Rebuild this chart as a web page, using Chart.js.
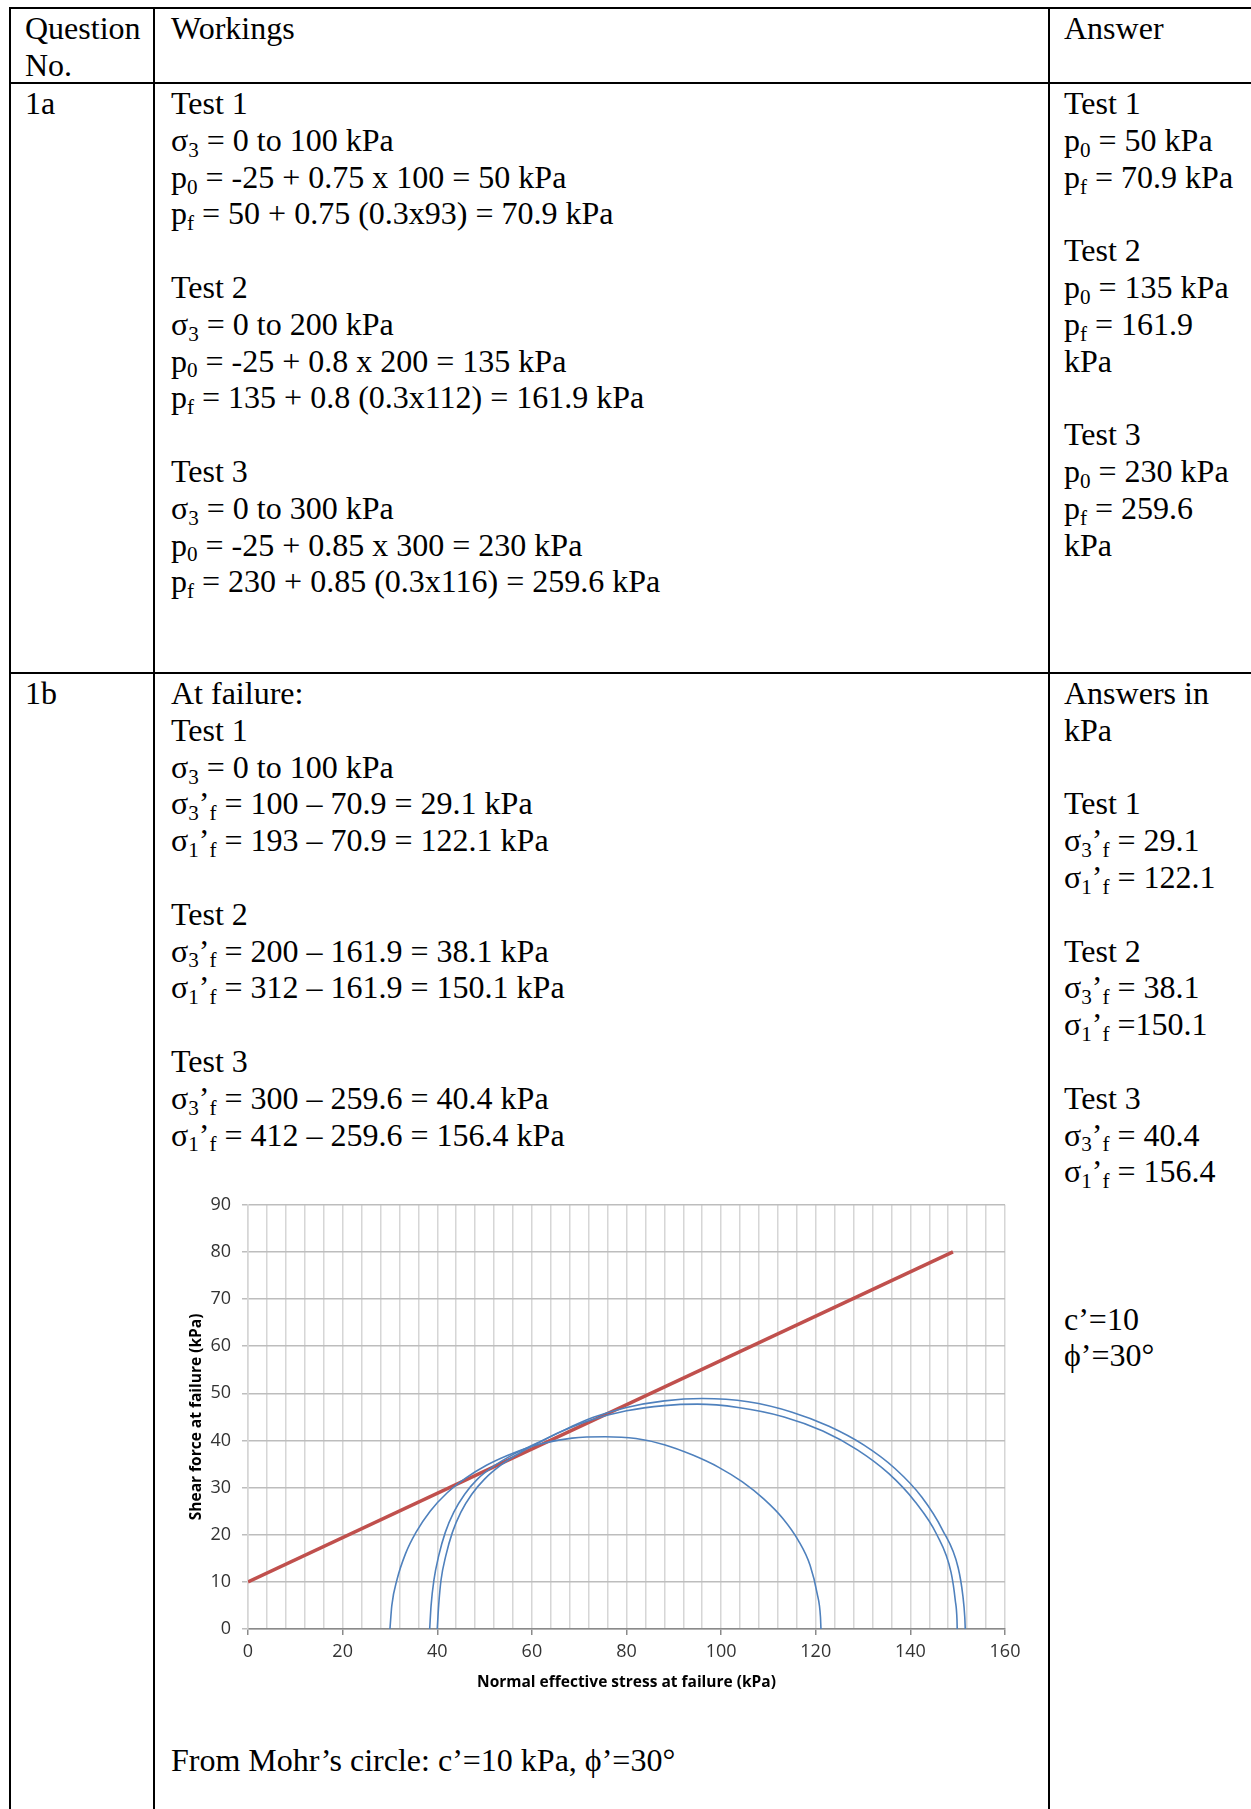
<!DOCTYPE html>
<html>
<head>
<meta charset="utf-8">
<script src="https://cdn.jsdelivr.net/npm/chart.js@4.4.1/dist/chart.umd.min.js"></script>
<style>
html, body { margin: 0; padding: 0; background: #fff; }
body { width: 1251px; height: 1809px; position: relative; overflow: hidden;
       font-family: "Liberation Serif", "Times New Roman", serif; font-size: 32px; color: #000; }
.rule { position: absolute; background: #000; }
.cell { position: absolute; white-space: nowrap; }
.cell div { height: 36.8px; line-height: 36.8px; }
sub { font-size: .66em; line-height: 0; vertical-align: baseline; position: relative; top: .28em; }
#chartBox { position: absolute; left: 160px; top: 1183px; width: 875px; height: 516px; }
</style>
</head>
<body>
<!-- table rules -->
<div class="rule" style="left:9px;top:7px;width:1242px;height:2px"></div>
<div class="rule" style="left:9px;top:82px;width:1242px;height:2px"></div>
<div class="rule" style="left:9px;top:672px;width:1242px;height:2px"></div>
<div class="rule" style="left:9px;top:7px;width:2px;height:1802px"></div>
<div class="rule" style="left:153px;top:7px;width:2px;height:1802px"></div>
<div class="rule" style="left:1048px;top:7px;width:2px;height:1802px"></div>

<!-- header -->
<div class="cell" style="left:25px;top:10px"><div>Question</div><div>No.</div></div>
<div class="cell" style="left:171px;top:10px"><div>Workings</div></div>
<div class="cell" style="left:1064px;top:10px"><div>Answer</div></div>

<!-- 1a -->
<div class="cell" style="left:25px;top:85px"><div>1a</div></div>
<div class="cell" style="left:171px;top:85px">
  <div>Test 1</div>
  <div>σ<sub>3</sub> = 0 to 100 kPa</div>
  <div>p<sub>0</sub> = -25 + 0.75 x 100 = 50 kPa</div>
  <div>p<sub>f</sub> = 50 + 0.75 (0.3x93) = 70.9 kPa</div>
  <div></div>
  <div>Test 2</div>
  <div>σ<sub>3</sub> = 0 to 200 kPa</div>
  <div>p<sub>0</sub> = -25 + 0.8 x 200 = 135 kPa</div>
  <div>p<sub>f</sub> = 135 + 0.8 (0.3x112) = 161.9 kPa</div>
  <div></div>
  <div>Test 3</div>
  <div>σ<sub>3</sub> = 0 to 300 kPa</div>
  <div>p<sub>0</sub> = -25 + 0.85 x 300 = 230 kPa</div>
  <div>p<sub>f</sub> = 230 + 0.85 (0.3x116) = 259.6 kPa</div>
</div>
<div class="cell" style="left:1064px;top:85px">
  <div>Test 1</div>
  <div>p<sub>0</sub> = 50 kPa</div>
  <div>p<sub>f</sub> = 70.9 kPa</div>
  <div></div>
  <div>Test 2</div>
  <div>p<sub>0</sub> = 135 kPa</div>
  <div>p<sub>f</sub> = 161.9</div>
  <div>kPa</div>
  <div></div>
  <div>Test 3</div>
  <div>p<sub>0</sub> = 230 kPa</div>
  <div>p<sub>f</sub> = 259.6</div>
  <div>kPa</div>
</div>

<!-- 1b -->
<div class="cell" style="left:25px;top:675px"><div>1b</div></div>
<div class="cell" style="left:171px;top:675px">
  <div>At failure:</div>
  <div>Test 1</div>
  <div>σ<sub>3</sub> = 0 to 100 kPa</div>
  <div>σ<sub>3</sub>’<sub>f</sub> = 100 – 70.9 = 29.1 kPa</div>
  <div>σ<sub>1</sub>’<sub>f</sub> = 193 – 70.9 = 122.1 kPa</div>
  <div></div>
  <div>Test 2</div>
  <div>σ<sub>3</sub>’<sub>f</sub> = 200 – 161.9 = 38.1 kPa</div>
  <div>σ<sub>1</sub>’<sub>f</sub> = 312 – 161.9 = 150.1 kPa</div>
  <div></div>
  <div>Test 3</div>
  <div>σ<sub>3</sub>’<sub>f</sub> = 300 – 259.6 = 40.4 kPa</div>
  <div>σ<sub>1</sub>’<sub>f</sub> = 412 – 259.6 = 156.4 kPa</div>
</div>
<div class="cell" style="left:171px;top:1742px"><div>From Mohr’s circle: c’=10 kPa, ϕ’=30°</div></div>
<div class="cell" style="left:1064px;top:675px">
  <div>Answers in</div>
  <div>kPa</div>
  <div></div>
  <div>Test 1</div>
  <div>σ<sub>3</sub>’<sub>f</sub> = 29.1</div>
  <div>σ<sub>1</sub>’<sub>f</sub> = 122.1</div>
  <div></div>
  <div>Test 2</div>
  <div>σ<sub>3</sub>’<sub>f</sub> = 38.1</div>
  <div>σ<sub>1</sub>’<sub>f</sub> =150.1</div>
  <div></div>
  <div>Test 3</div>
  <div>σ<sub>3</sub>’<sub>f</sub> = 40.4</div>
  <div>σ<sub>1</sub>’<sub>f</sub> = 156.4</div>
  <div></div>
  <div></div>
  <div></div>
  <div>c’=10</div>
  <div>ϕ’=30°</div>
</div>

<div id="chartBox"><canvas id="mohrChart"></canvas></div>

<script>
// Failure envelope
const envelopeSigma = [0, 149];
const envelopeTau = [10, 80];

// Mohr circles, points traced along each arc (left foot -> right foot)
const test1Sigma = [30, 30.4, 31.5, 33.3, 35.5, 38.5, 42, 46, 50.5, 56, 62, 68.5, 75.5, 82, 88, 94, 99.5, 104.5, 109, 113, 116.3, 118.8, 120.3, 121, 121.1];
const test1Tau   = [0, 5, 10.5, 16, 20.5, 25, 28.8, 32, 34.8, 37.3, 39.3, 40.5, 40.8, 40.4, 39.1, 36.9, 34.3, 31.2, 27.6, 23.5, 18.8, 13.5, 7.5, 2.5, 0];

const test2Sigma = [38.4, 38.7, 39.3, 40.3, 41.7, 43.5, 45.8, 48.5, 52, 56, 61, 66, 72, 80, 88, 95, 103.6, 113.3, 121.5, 128.8, 135.4, 141, 145.6, 148.6, 149.5, 149.85, 149.9];
const test2Tau   = [0, 5, 10.4, 15.5, 20.5, 24.8, 28.6, 31.8, 34.6, 37, 39.4, 41.8, 44.2, 46.3, 47.4, 47.7, 47, 45, 42, 38, 33, 27, 20, 12, 6, 2, 0];

const test3Sigma = [40, 40.3, 40.8, 41.8, 43.2, 45, 47.3, 50, 53.5, 57.5, 62, 67, 73, 80, 88, 96, 105.7, 115, 122.8, 130.2, 136.8, 142.4, 146.8, 150.1, 151.1, 151.5, 151.6];
const test3Tau   = [0, 5, 10.4, 15.5, 20.5, 24.8, 28.6, 31.8, 34.8, 37.4, 39.8, 42.3, 44.9, 47, 48.4, 48.9, 48.2, 46, 43, 39, 34, 28, 21, 13, 7, 2.5, 0];

const xTitle = 'Normal effective stress at failure (kPa)';
const yTitle = 'Shear force at failure (kPa)';

const blue = '#4f81bd';
const red = '#c0504d';

function pts(xs, ys) {
    return xs.map((x, i) => ({ x, y: ys[i] }));
}

function arc(xs, ys) {
    return {
        data: pts(xs, ys),
        showLine: true,
        borderColor: blue,
        borderWidth: 1.6,
        pointRadius: 0,
        cubicInterpolationMode: 'monotone'
    };
}

new Chart(document.getElementById('mohrChart'), {
    type: 'scatter',
    data: {
        datasets: [
            arc(test1Sigma, test1Tau),
            arc(test2Sigma, test2Tau),
            arc(test3Sigma, test3Tau),
            {
                data: pts(envelopeSigma, envelopeTau),
                showLine: true,
                borderColor: red,
                borderWidth: 3.5,
                pointRadius: 0
            }
        ]
    },
    options: {
        responsive: true,
        maintainAspectRatio: false,
        animation: false,
        layout: { padding: { top: 15, right: 30, left: 0, bottom: 0 } },
        plugins: { legend: { display: false }, tooltip: { enabled: false } },
        scales: {
            x: {
                type: 'linear', min: 0, max: 160,
                afterFit: s => { s.height = 70; },
                ticks: {
                    stepSize: 4, autoSkip: false, maxRotation: 0, padding: 6,
                    color: '#333', font: { family: 'Open Sans', size: 18 },
                    callback: v => (v % 20 === 0 ? v : '')
                },
                grid: {
                    color: '#d6d6d6', lineWidth: 1.5, tickLength: 6,
                    tickColor: c => (c.tick && c.tick.value % 20 === 0 ? '#8a8a8a' : 'rgba(0,0,0,0)')
                },
                border: { color: '#8a8a8a', width: 1.5 },
                title: {
                    display: true, text: xTitle, color: '#000',
                    font: { family: 'Open Sans', size: 15.5, weight: 'bold' },
                    padding: { top: 0, bottom: 7 }
                }
            },
            y: {
                type: 'linear', min: 0, max: 90,
                afterFit: s => { s.width = 88; },
                ticks: {
                    stepSize: 10, padding: 11,
                    color: '#333', font: { family: 'Open Sans', size: 18 }
                },
                grid: { color: '#bdbdbd', lineWidth: 1.5, tickLength: 6 },
                border: { color: '#d6d6d6', width: 1.5 },
                title: {
                    display: true, text: yTitle, color: '#000',
                    font: { family: 'Open Sans', size: 15.5, weight: 'bold' },
                    padding: { top: 27, bottom: 0 }
                }
            }
        }
    }
});
</script>
</body>
</html>
